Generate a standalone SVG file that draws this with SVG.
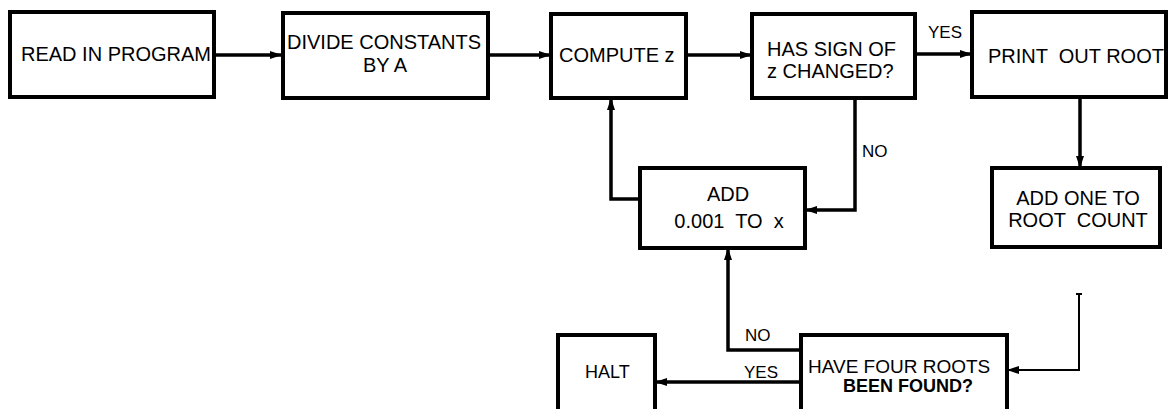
<svg xmlns="http://www.w3.org/2000/svg" width="1168" height="409" viewBox="0 0 1168 409">
<style>
.box{fill:#fff;stroke:#000;stroke-width:4}
.t{font-family:"Liberation Sans",Arial,sans-serif;font-size:20px;fill:#000}
.c{text-anchor:middle}
.lbl{font-family:"Liberation Sans",Arial,sans-serif;font-size:17px;fill:#000}
.ln{fill:none;stroke:#000;stroke-width:3.5}
.thin{fill:none;stroke:#000;stroke-width:2}
</style>
<defs>
<marker id="ah" markerUnits="userSpaceOnUse" markerWidth="14" markerHeight="12" refX="12" refY="5" orient="auto">
<path d="M0,1 Q-2,5 0,9 L12,5 Z" fill="#000"/>
</marker>
</defs>
<rect width="1168" height="409" fill="#fff"/>
<g id="connectors">
<path class="ln" d="M214,55 H282" marker-end="url(#ah)"/>
<path class="ln" d="M488,55 H551" marker-end="url(#ah)"/>
<path class="ln" d="M686,55 H752" marker-end="url(#ah)"/>
<path class="ln" d="M915,54 H972" marker-end="url(#ah)"/>
<path class="ln" d="M1080,97 V168" marker-end="url(#ah)"/>
<path class="ln" d="M855,98 V210 H805" marker-end="url(#ah)"/>
<path class="ln" d="M640,199 H611 V98" marker-end="url(#ah)"/>
<path class="ln" d="M801,350 H728 V248" marker-end="url(#ah)"/>
<path class="ln" d="M801,382 H655" marker-end="url(#ah)"/>
<path class="thin" d="M1076,294 H1082 M1079,294 V370 H1007" marker-end="url(#ah)"/>
<text class="lbl" x="928" y="38">YES</text>
<text class="lbl" x="862" y="157">NO</text>
<text class="lbl" x="745" y="341">NO</text>
<text class="lbl" x="744" y="378">YES</text>
</g>
<g id="read">
<rect class="box" x="10" y="12" width="204" height="85"/>
<text class="t" x="21" y="61">READ IN PROGRAM</text>
</g>
<g id="divide">
<rect class="box" x="283" y="13" width="205" height="85"/>
<text class="t" x="287" y="49">DIVIDE CONSTANTS</text>
<text class="t c" x="385" y="72">BY A</text>
</g>
<g id="compute">
<rect class="box" x="551" y="14" width="135" height="84"/>
<text class="t" x="559" y="62">COMPUTE z</text>
</g>
<g id="sign">
<rect class="box" x="752" y="14" width="163" height="84"/>
<text class="t" x="767" y="56">HAS SIGN OF</text>
<text class="t" x="767" y="78">z CHANGED?</text>
</g>
<g id="print">
<rect class="box" x="972" y="12" width="194" height="85"/>
<text class="t" x="988" y="63" xml:space="preserve">PRINT  OUT ROOT</text>
</g>
<g id="addx">
<rect class="box" x="640" y="168" width="165" height="80"/>
<text class="t c" x="728" y="201">ADD</text>
<text class="t c" x="729" y="228" xml:space="preserve">0.001  TO  x</text>
</g>
<g id="addone">
<rect class="box" x="992" y="168" width="168" height="79"/>
<text class="t c" x="1078" y="205">ADD ONE TO</text>
<text class="t c" x="1078" y="227" xml:space="preserve">ROOT  COUNT</text>
</g>
<g id="four">
<rect class="box" x="801" y="335" width="206" height="90"/>
<text class="t" x="808" y="373" style="font-size:19px">HAVE FOUR ROOTS</text>
<text class="t c" x="908" y="392" style="font-size:18px;font-weight:bold">BEEN FOUND?</text>
</g>
<g id="halt">
<rect class="box" x="558" y="335" width="97" height="90"/>
<text class="t" x="585" y="378" style="font-size:18px">HALT</text>
</g>
</svg>
